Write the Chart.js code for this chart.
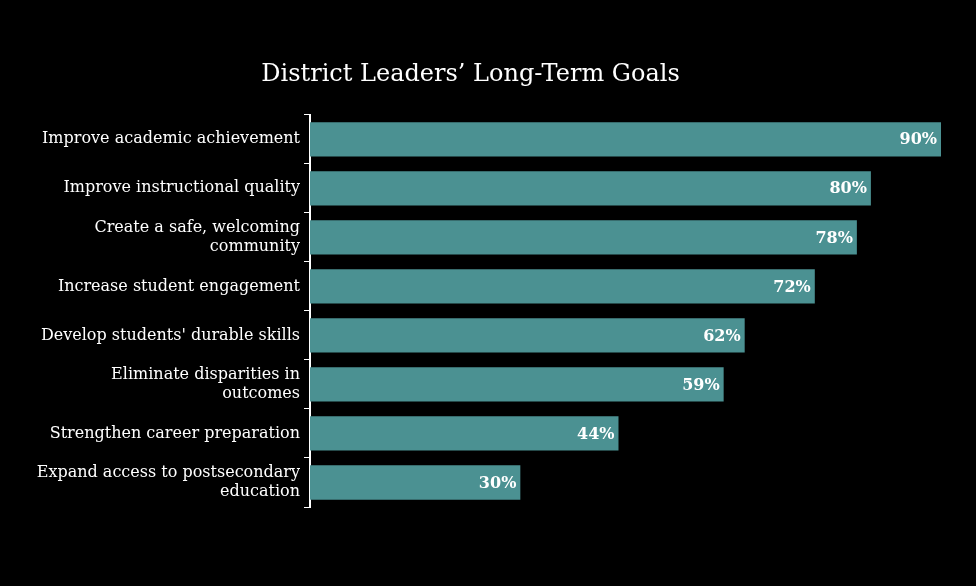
<!DOCTYPE html>
<html><head><meta charset="utf-8">
<script src="https://cdn.jsdelivr.net/npm/chart.js@4"></script>
<style>html,body{margin:0;background:#000}#w{width:976px;height:586px}</style>
</head><body><div id="w"><canvas id="c"></canvas></div>
<script>
const categories = [
  "Improve academic achievement",
  "Improve instructional quality",
  ["Create a safe, welcoming", "community"],
  "Increase student engagement",
  "Develop students' durable skills",
  ["Eliminate disparities in", "outcomes"],
  "Strengthen career preparation",
  ["Expand access to postsecondary", "education"]
];
const values = [90, 80, 78, 72, 62, 59, 44, 30];
const FONT = "'DejaVu Serif', 'Liberation Serif', serif";

const labelPlugin = {
  id: 'vals',
  afterDatasetsDraw(chart) {
    const ctx = chart.ctx;
    const meta = chart.getDatasetMeta(0);
    ctx.save();
    ctx.fillStyle = '#fff';
    ctx.font = "bold 16px " + FONT;
    ctx.textAlign = 'right';
    ctx.textBaseline = 'middle';
    meta.data.forEach((b, i) => ctx.fillText(values[i] + '%', b.x - 4, b.y + 1));
    ctx.restore();
  }
};

new Chart(document.getElementById('c'), {
  type: 'bar',
  data: { labels: categories, datasets: [{ data: values, backgroundColor: '#4b9192', barPercentage: 0.7, categoryPercentage: 1 }] },
  options: {
    indexAxis: 'y', responsive: true, maintainAspectRatio: false, animation: false,
    layout: { padding: { left: 0, right: 35, top: 0, bottom: 79 } },
    plugins: {
      legend: { display: false }, tooltip: { enabled: false },
      title: { display: true, text: 'District Leaders\u2019 Long-Term Goals', color: '#fff',
        font: { family: FONT, size: 24, weight: 'normal' }, padding: { top: 60, bottom: 26 } }
    },
    scales: {
      x: { display: false, min: 0, max: 90 },
      y: {
        afterFit(s) { s.width = 310; },
        grid: { display: true, drawOnChartArea: false, color: '#fff', tickLength: 6 },
        border: { color: '#fff', width: 2 },
        ticks: { color: '#fff', font: { family: FONT, size: 16 }, padding: 4, autoSkip: false }
      }
    }
  },
  plugins: [labelPlugin]
});
</script></body></html>
